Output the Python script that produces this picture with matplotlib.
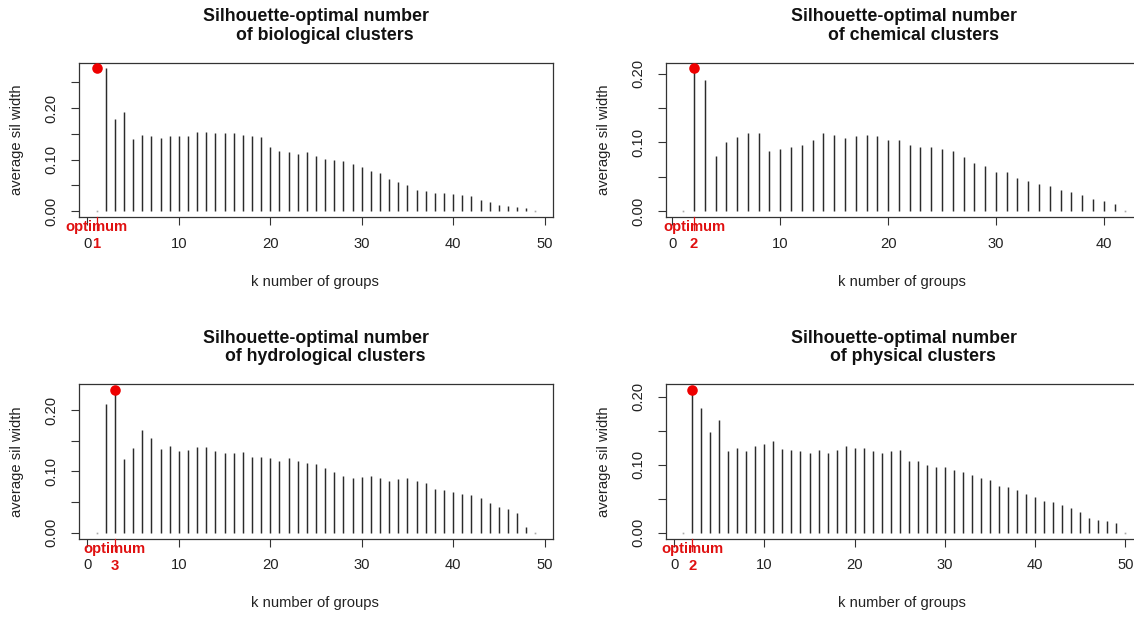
import numpy as np
import matplotlib
matplotlib.use("Agg")
import matplotlib.pyplot as plt

plt.rcParams['font.family'] = ['Liberation Sans', 'DejaVu Sans']

# average silhouette widths, k = 1..n
titles = ["biological", "chemical", "hydrological", "physical"]
bio = [0.000, 0.277, 0.179, 0.192, 0.141, 0.148, 0.145, 0.142, 0.145, 0.145,
       0.145, 0.154, 0.154, 0.152, 0.151, 0.151, 0.148, 0.145, 0.144, 0.125,
       0.117, 0.115, 0.112, 0.115, 0.108, 0.102, 0.100, 0.097, 0.092, 0.085,
       0.078, 0.074, 0.062, 0.057, 0.051, 0.041, 0.039, 0.036, 0.036, 0.033,
       0.031, 0.029, 0.022, 0.018, 0.013, 0.011, 0.009, 0.007, 0.000]
chem = [0.000, 0.2075, 0.191, 0.081, 0.100, 0.108, 0.113, 0.113, 0.088, 0.090,
        0.093, 0.096, 0.103, 0.113, 0.111, 0.107, 0.110, 0.111, 0.110, 0.103,
        0.103, 0.096, 0.093, 0.094, 0.091, 0.088, 0.079, 0.070, 0.066, 0.057,
        0.057, 0.049, 0.044, 0.040, 0.036, 0.031, 0.028, 0.024, 0.018, 0.015,
        0.010, 0.000]
hydro = [0.000, 0.210, 0.233, 0.120, 0.139, 0.168, 0.154, 0.136, 0.142, 0.134,
         0.135, 0.140, 0.140, 0.133, 0.130, 0.130, 0.132, 0.123, 0.123, 0.122,
         0.117, 0.122, 0.117, 0.114, 0.112, 0.105, 0.099, 0.092, 0.089, 0.091,
         0.093, 0.090, 0.085, 0.087, 0.089, 0.085, 0.081, 0.072, 0.069, 0.066,
         0.064, 0.061, 0.057, 0.049, 0.042, 0.038, 0.033, 0.010, 0.000]
phys = [0.000, 0.210, 0.183, 0.148, 0.166, 0.120, 0.124, 0.120, 0.127, 0.130,
        0.135, 0.123, 0.121, 0.120, 0.118, 0.121, 0.118, 0.121, 0.127, 0.125,
        0.124, 0.120, 0.117, 0.120, 0.121, 0.106, 0.105, 0.099, 0.096, 0.097,
        0.092, 0.089, 0.085, 0.081, 0.077, 0.069, 0.067, 0.063, 0.057, 0.053,
        0.046, 0.045, 0.041, 0.037, 0.030, 0.022, 0.019, 0.017, 0.015, 0.000]
series = [bio, chem, hydro, phys]
optimum = [1, 2, 3, 2]
xticks = [[0, 10, 20, 30, 40, 50], [0, 10, 20, 30, 40],
          [0, 10, 20, 30, 40, 50], [0, 10, 20, 30, 40, 50]]

W, H = 1134, 617
fig = plt.figure(figsize=(W / 100, H / 100), dpi=100)

# panel frames in pixels: left, top, width, height
frames = [(79, 62.7, 474, 154.3), (665.5, 62.7, 477.5, 154.3),
          (79, 384.2, 474, 154.3), (665.5, 384.2, 477.5, 154.3)]
offsets = [(0, 0), (586.5, 0), (0, 321.5), (586.5, 321.5)]

FS = 10.6
TXT = '#222222'
RED = '#e01010'

for i in range(4):
    l, t, w, h = frames[i]
    dx, dy = offsets[i]
    ax = fig.add_axes([l / W, 1 - (t + h) / H, w / W, h / H])
    vals = np.array(series[i])
    k = np.arange(1, len(vals) + 1)
    n = len(vals)
    ymax = vals.max()

    ax.vlines(k, 0, vals, color='#2b2b2b', lw=1.05)
    zero = vals == 0
    ax.plot(k[zero], vals[zero], 's', ms=1.2, color='#aaaaaa', mec='none')
    ax.plot(optimum[i], ymax, 'o', ms=7.6, color='#ee0000', mec='none',
            clip_on=False, zorder=5)

    ax.set_xlim(1 - 0.04 * (n - 1), n + 0.04 * (n - 1))
    ax.set_ylim(-0.04 * ymax, 1.04 * ymax)

    ax.set_xticks(xticks[i])
    ax.set_xticklabels([str(v) for v in xticks[i]])
    yt = np.arange(0, ymax * 1.04, 0.05)
    ax.set_yticks(yt)
    ax.set_yticklabels([f"{v:.2f}" if j % 2 == 0 else "" for j, v in enumerate(yt)],
                       rotation=90, va='center')
    ax.tick_params(axis='both', direction='out', length=5.8, width=0.8,
                   color='#333333', labelsize=FS, labelcolor=TXT)
    ax.tick_params(axis='x', pad=8.4)
    ax.tick_params(axis='y', pad=8.7)
    for s in ax.spines.values():
        s.set_color('#333333')
        s.set_linewidth(0.9)

    # red optimum tick and label
    ax.plot([optimum[i], optimum[i]], [0, -12.5 / h], transform=ax.get_xaxis_transform(),
            color=RED, lw=0.9, clip_on=False, zorder=4)
    ax.annotate("optimum", xy=(optimum[i], 0), xycoords=('data', 'axes fraction'),
                xytext=(0, -10.3 * 0.72), textcoords='offset points',
                ha='center', va='center', fontsize=FS, fontweight='bold',
                color=RED, zorder=6)
    ax.annotate(str(optimum[i]), xy=(optimum[i], 0), xycoords=('data', 'axes fraction'),
                xytext=(0, -27.5 * 0.72), textcoords='offset points',
                ha='center', va='center', fontsize=FS, fontweight='bold',
                color=RED)

    cx = l + 474 / 2 if i % 2 == 0 else 904
    fig.text(cx / W, 1 - (16.7 + dy) / H,
             "Silhouette-optimal number", ha='center', va='center',
             fontsize=12.8, fontweight='bold', color='#111111')
    fig.text((cx + 9) / W, 1 - (35 + dy) / H,
             "of %s clusters" % titles[i], ha='center', va='center',
             fontsize=12.8, fontweight='bold', color='#111111')
    fig.text((315 + dx) / W, 1 - (282 + dy) / H, "k number of groups",
             ha='center', va='center', fontsize=FS, color=TXT)
    fig.text((17.5 + dx) / W, 1 - (140 + dy) / H, "average sil width",
             ha='center', va='center', rotation=90, fontsize=FS, color=TXT)

fig.savefig("out.png", dpi=100)
